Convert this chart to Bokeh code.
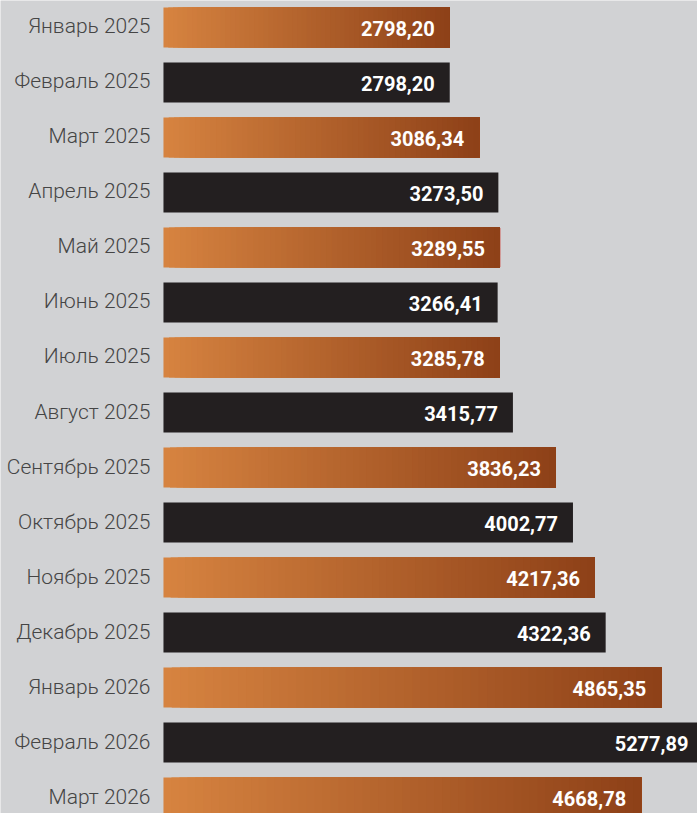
from bokeh.plotting import figure
from bokeh.models import Range1d, ColumnDataSource
from bokeh.core.properties import value
from bokeh.embed import file_html
from bokeh.resources import INLINE

months = ["Январь 2025", "Февраль 2025", "Март 2025", "Апрель 2025", "Май 2025",
          "Июнь 2025", "Июль 2025", "Август 2025", "Сентябрь 2025", "Октябрь 2025",
          "Ноябрь 2025", "Декабрь 2025", "Январь 2026", "Февраль 2026", "Март 2026"]
values = [2798.20, 2798.20, 3086.34, 3273.50, 3289.55, 3266.41, 3285.78, 3415.77,
          3836.23, 4002.77, 4217.36, 4322.36, 4865.35, 5277.89, 4668.78]
value_labels = ["2798,20", "2798,20", "3086,34", "3273,50", "3289,55", "3266,41",
                "3285,78", "3415,77", "3836,23", "4002,77", "4217,36", "4322,36",
                "4865,35", "5277,89", "4668,78"]

W, H = 697, 813
BG = "#d1d2d4"
DARK = "#231f20"
C0 = (214, 131, 64)
C1 = (142, 65, 24)

p = figure(width=W, height=H, output_backend="svg", toolbar_location=None,
           x_range=Range1d(-1593, 5220), y_range=Range1d(14.2909, -0.4909),
           min_border=0, background_fill_color=BG, border_fill_color=BG)
p.axis.visible = False
p.grid.visible = False
p.outline_line_color = None

ys = list(range(len(months)))
bar_h = 40 / 55

# dark bars
dark_idx = [i for i in ys if i % 2 == 1]
p.hbar(y=[ys[i] for i in dark_idx], left=0, right=[values[i] for i in dark_idx],
       height=bar_h, fill_color=DARK, line_color=None)

# gradient bars (stacked overlapping segments)
N = 60
seg_y, seg_l, seg_r, seg_c = [], [], [], []
for i in ys:
    if i % 2 == 0:
        v = values[i]
        for k in range(N):
            t = k / (N - 1)
            c = tuple(int(round(C0[j] + (C1[j] - C0[j]) * t)) for j in range(3))
            seg_y.append(i)
            seg_l.append(v * k / N)
            seg_r.append(v)
            seg_c.append("#%02x%02x%02x" % c)
p.hbar(y="y", left="l", right="r", height=bar_h, fill_color="c", line_color=None,
       source=ColumnDataSource(dict(y=seg_y, l=seg_l, r=seg_r, c=seg_c)))

# month labels
p.text(x=[0] * len(ys), y=ys, text=months, x_offset=-13, y_offset=-1, text_align="right",
       text_baseline="middle", text_font=value("'Roboto Light', Roboto"), text_font_size="21px",
       text_color="#454545")

# value labels
p.text(x=values, y=ys, text=value_labels, x_offset=-15, y_offset=1, text_align="right",
       text_baseline="middle", text_font=value("Roboto"), text_font_size="20px",
       text_font_style="bold", text_color="white")

open("out.html", "w").write(file_html(p, INLINE))
